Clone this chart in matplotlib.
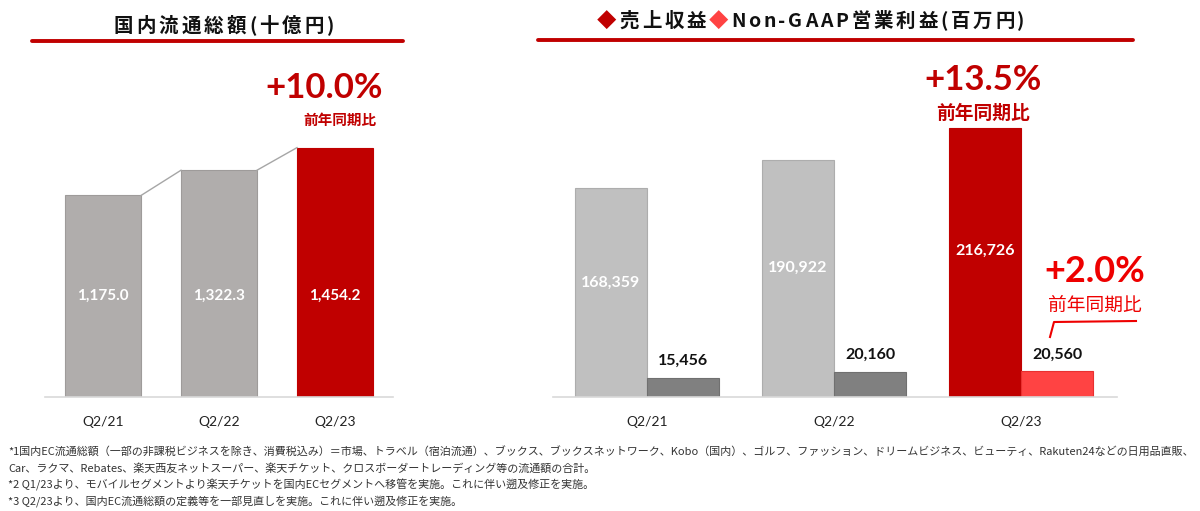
import matplotlib.pyplot as plt
from matplotlib.lines import Line2D
from matplotlib.offsetbox import TextArea, HPacker, AnnotationBbox

plt.rcParams['font.family'] = ['Noto Sans CJK JP', 'DejaVu Sans']

# data
quarters = ['Q2/21', 'Q2/22', 'Q2/23']
gmv = [1175.0, 1322.3, 1454.2]          # 国内流通総額 (十億円)
revenue = [168359, 190922, 216726]       # 売上収益 (百万円)
op_income = [15456, 20160, 20560]        # Non-GAAP営業利益 (百万円)
gmv_growth = '+10.0%'
rev_growth = '+13.5%'
op_growth = '+2.0%'
yoy_label = '前年同期比'
footnotes = [
    '*1国内EC流通総額（一部の非課税ビジネスを除き、消費税込み）＝市場、トラベル（宿泊流通）、ブックス、ブックスネットワーク、Kobo（国内）、ゴルフ、ファッション、ドリームビジネス、ビューティ、Rakuten24などの日用品直販、',
    'Car、ラクマ、Rebates、楽天西友ネットスーパー、楽天チケット、クロスボーダートレーディング等の流通額の合計。',
    '*2 Q1/23より、モバイルセグメントより楽天チケットを国内ECセグメントへ移管を実施。これに伴い遡及修正を実施。',
    '*3 Q2/23より、国内EC流通総額の定義等を一部見直しを実施。これに伴い遡及修正を実施。',
]

W, H = 1200, 511
DARK_RED = '#c00000'
BRIGHT_RED = '#ff4343'
NUM_FONT = ['Lato', 'DejaVu Sans']

fig = plt.figure(figsize=(W / 100, H / 100), dpi=100)


def px_axes(x0, y0, x1, y1):
    return fig.add_axes([x0 / W, 1 - y1 / H, (x1 - x0) / W, (y1 - y0) / H])


def fx(x):
    return x / W


def fy(y):
    return 1 - y / H


def style_axes(ax):
    for s in ['top', 'right', 'left']:
        ax.spines[s].set_visible(False)
    ax.spines['bottom'].set_color('#d9d9d9')
    ax.spines['bottom'].set_linewidth(1.2)
    ax.set_yticks([])
    ax.tick_params(axis='x', length=0, pad=14, labelsize=10, labelcolor='#222222')
    for lab in ax.get_xticklabels():
        lab.set_family(NUM_FONT)


def spaced_title(segments, x, y, sep):
    boxes = []
    for text, color in segments:
        for ch in text:
            boxes.append(TextArea(ch, textprops=dict(color=color, fontsize=14,
                                                     fontweight='bold')))
    pack = HPacker(children=boxes, align='baseline', pad=0, sep=sep)
    ab = AnnotationBbox(pack, (fx(x), fy(y)), xycoords='figure fraction',
                        frameon=False, box_alignment=(0.5, 0.5))
    fig.add_artist(ab)


# ---- left chart: 国内流通総額 ----
ax1 = px_axes(45, 60, 393, 397)
x1 = list(range(len(quarters)))
bw1 = 0.655
ax1.bar(x1, gmv, width=bw1, color=['#b0adac', '#b0adac', DARK_RED],
        edgecolor=['#9e9b9a', '#9e9b9a', DARK_RED], linewidth=0.8)
ax1.set_xlim(-0.5, 2.5)
ax1.set_ylim(0, 337 / 0.1715)
ax1.set_xticks(x1)
ax1.set_xticklabels(quarters)
style_axes(ax1)
for i in range(len(gmv) - 1):
    ax1.plot([x1[i] + bw1 / 2, x1[i + 1] - bw1 / 2], [gmv[i], gmv[i + 1]],
             color='#a6a6a6', lw=1)
for i, v in enumerate(gmv):
    ax1.text(x1[i], gmv[0] / 2, f'{v:,.1f}', ha='center', va='center',
             color='white', fontsize=11, fontweight='bold', family=NUM_FONT)

# ---- right chart: 売上収益 / Non-GAAP営業利益 ----
ax2 = px_axes(553, 60, 1117, 397)
x2 = list(range(len(quarters)))
bw2 = 0.385
rev_x = [i - bw2 / 2 for i in x2]
op_x = [i + bw2 / 2 for i in x2]
ax2.bar(rev_x, revenue, width=bw2, color=['#c0c0c0', '#c0c0c0', DARK_RED],
        edgecolor=['#adadad', '#adadad', DARK_RED], linewidth=0.8)
ax2.bar(op_x, op_income, width=bw2, color=['#808080', '#808080', BRIGHT_RED],
        edgecolor=['#707070', '#707070', '#e83030'], linewidth=0.8)
ax2.set_xlim(-0.503, 2.513)
ax2.set_ylim(0, 337 / 0.001241)
ax2.set_xticks(x2)
ax2.set_xticklabels(quarters)
style_axes(ax2)
for i, v in enumerate(revenue):
    ax2.text(rev_x[i], v * 0.545, f'{v:,}', ha='center', va='center',
             color='white', fontsize=11.5, fontweight='bold', family=NUM_FONT)
for i, v in enumerate(op_income):
    ax2.annotate(f'{v:,}', (op_x[i], v), xytext=(0, 7), textcoords='offset points',
                 ha='center', va='bottom', color='#111111', fontsize=11.5,
                 fontweight='bold', family=NUM_FONT)

# ---- titles & underlines ----
spaced_title([('国内流通総額(十億円)', '#111111')], 224, 26, 2.2)
spaced_title([('◆', DARK_RED), ('売上収益', '#111111'), ('◆', BRIGHT_RED),
              ('Non-GAAP営業利益(百万円)', '#111111')], 811, 21, 2)
fig.add_artist(Line2D([fx(32), fx(403)], [fy(41), fy(41)], color=DARK_RED,
                      lw=2.8, solid_capstyle='round'))
fig.add_artist(Line2D([fx(538), fx(1133)], [fy(40), fy(40)], color=DARK_RED,
                      lw=2.8, solid_capstyle='round'))

# ---- growth callouts ----
fig.text(fx(324), fy(88), gmv_growth, ha='center', va='center', color=DARK_RED,
         fontsize=25, fontweight='bold', family=NUM_FONT)
fig.text(fx(340), fy(120), yoy_label, ha='center', va='center', color=DARK_RED,
         fontsize=10.5, fontweight='bold')
fig.text(fx(983), fy(80), rev_growth, ha='center', va='center', color=DARK_RED,
         fontsize=25, fontweight='bold', family=NUM_FONT)
fig.text(fx(983), fy(113), yoy_label, ha='center', va='center', color=DARK_RED,
         fontsize=13.5, fontweight='bold')
fig.text(fx(1095), fy(272), op_growth, ha='center', va='center', color='#ee0000',
         fontsize=26, fontweight='bold', family=NUM_FONT)
fig.text(fx(1095), fy(305), yoy_label, ha='center', va='center', color='#ee0000',
         fontsize=13.5)
fig.add_artist(Line2D([fx(1050), fx(1054), fx(1136)], [fy(337), fy(322), fy(321)],
                      color='#ee0000', lw=1.5))

# ---- footnotes ----
for k, line in enumerate(footnotes):
    fig.text(fx(8), fy(452 + 16.5 * k), line, ha='left', va='center',
             fontsize=7.95, color='#333333')

fig.savefig('out.png', dpi=100)
